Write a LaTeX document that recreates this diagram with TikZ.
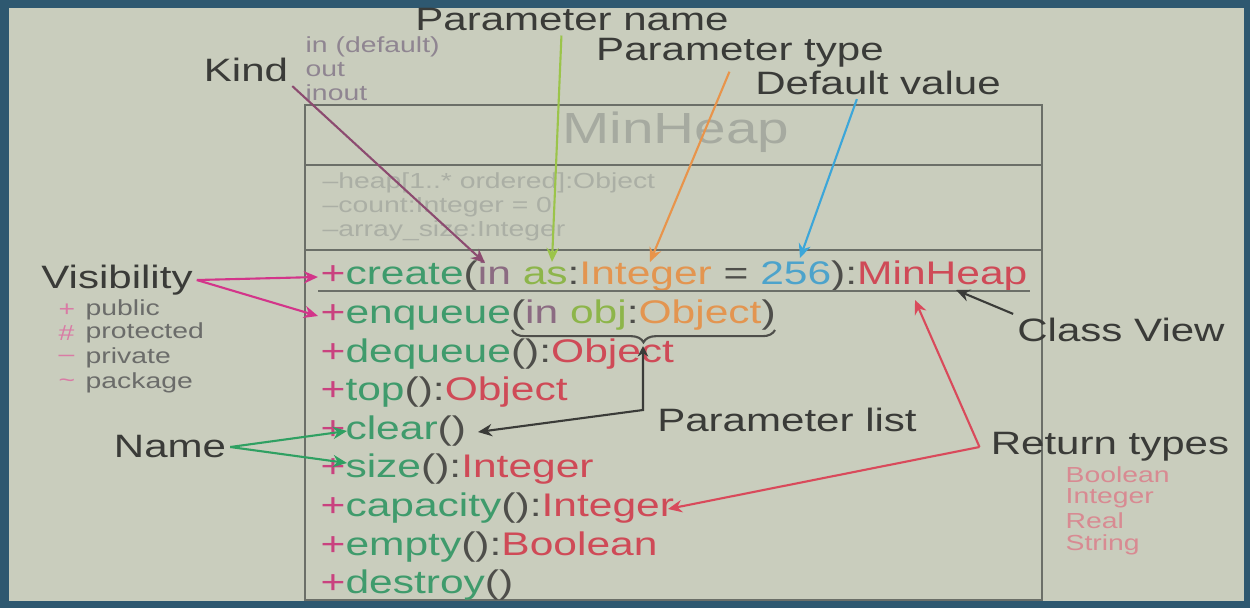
\documentclass[tikz,border=0pt]{standalone}
\usepackage{fontspec}
\setmainfont[FakeStretch=1.3]{Liberation Sans}
\usetikzlibrary{arrows.meta, positioning, decorations.pathreplacing}
\definecolor{slidebg}{HTML}{C9CDBD}
\definecolor{slideframe}{HTML}{2E5870}
\definecolor{boxgray}{HTML}{6B6F68}
\definecolor{lbltext}{HTML}{3A3B38}
\definecolor{headgray}{HTML}{A6AAA0}
\definecolor{attrgray}{HTML}{ABAFA5}
\definecolor{kindgray}{HTML}{8F8591}
\definecolor{uvis}{HTML}{C9427F}
\definecolor{uname}{HTML}{3F9B6C}
\definecolor{upunct}{HTML}{4E4E4A}
\definecolor{uret}{HTML}{CF4A57}
\definecolor{ukind}{HTML}{8B6B82}
\definecolor{upname}{HTML}{8DB54A}
\definecolor{uptype}{HTML}{E39550}
\definecolor{udval}{HTML}{4DA3CB}
\definecolor{retlist}{HTML}{D88A92}
\definecolor{akind}{HTML}{8C4B70}
\definecolor{apname}{HTML}{9BC44A}
\definecolor{aptype}{HTML}{E8944B}
\definecolor{adval}{HTML}{3CA6D9}
\definecolor{avis}{HTML}{D3358A}
\definecolor{aname}{HTML}{2FA062}
\definecolor{aret}{HTML}{D94A5B}
\newcommand{\cvis}[1]{\textcolor{uvis}{#1}}
\newcommand{\cnam}[1]{\textcolor{uname}{#1}}
\newcommand{\cpun}[1]{\textcolor{upunct}{#1}}
\newcommand{\cret}[1]{\textcolor{uret}{#1}}
\newcommand{\ckin}[1]{\textcolor{ukind}{#1}}
\newcommand{\cpnm}[1]{\textcolor{upname}{#1}}
\newcommand{\ctyp}[1]{\textcolor{uptype}{#1}}
\newcommand{\cdfv}[1]{\textcolor{udval}{#1}}

\begin{document}
\begin{tikzpicture}[
  x=0.01cm, y=-0.01cm,
  lbl/.style={font=\fontsize{9.2}{11}\selectfont, text=lbltext, inner sep=1pt},
  small/.style={font=\fontsize{6.2}{7}\selectfont, inner sep=0pt, anchor=west},
  meth/.style={font=\fontsize{9.3}{11}\selectfont, inner sep=0pt, anchor=base west},
  attr/.style={small, text=attrgray},
  arr/.style={-{Stealth[length=4pt,width=3.5pt]}, line width=0.6pt},
  boxline/.style={draw=boxgray, line width=0.8pt}
]
  % slide
  \fill[slideframe] (0,0) rectangle (1250,608);
  \fill[slidebg] (9,8) rectangle (1244,601);
  \useasboundingbox (0,0) rectangle (1250,608);

  % class box
  \draw[boxline] (305,105) rectangle (1042,600);
  \draw[boxline] (305,165) -- (1042,165);
  \draw[boxline] (305,250) -- (1042,250);
  \node[font=\fontsize{12.4}{14}\selectfont, text=headgray] (cls) at (676,132) {MinHeap};
  \node[attr] (a1) at (322,183) {–heap[1..* ordered]:Object};
  \node[attr] (a2) at (322,207) {–count:Integer = 0};
  \node[attr] (a3) at (322,231) {–array\_size:Integer};

  \node[meth] (mcreate)  at (320,284) {\cvis{+}\cnam{create}\cpun{(}\ckin{in} \cpnm{as}\cpun{:}\ctyp{Integer} \cpun{=} \cdfv{256}\cpun{):}\cret{MinHeap}};
  \node[meth] (menq)     at (320,323) {\cvis{+}\cnam{enqueue}\cpun{(}\ckin{in} \cpnm{obj}\cpun{:}\ctyp{Object}\cpun{)}};
  \node[meth] (mdeq)     at (320,362) {\cvis{+}\cnam{dequeue}\cpun{():}\cret{Object}};
  \node[meth] (mtop)     at (320,400) {\cvis{+}\cnam{top}\cpun{():}\cret{Object}};
  \node[meth] (mclear)   at (320,439) {\cvis{+}\cnam{clear}\cpun{()}};
  \node[meth] (msize)    at (320,477) {\cvis{+}\cnam{size}\cpun{():}\cret{Integer}};
  \node[meth] (mcap)     at (320,516) {\cvis{+}\cnam{capacity}\cpun{():}\cret{Integer}};
  \node[meth] (mempty)   at (320,555) {\cvis{+}\cnam{empty}\cpun{():}\cret{Boolean}};
  \node[meth] (mdestroy) at (320,593) {\cvis{+}\cnam{destroy}\cpun{()}};
  \coordinate (ul1) at (318,291);
  \coordinate (ul2) at (1030,291);
  \draw[boxline] (ul1) -- (ul2);

  % labels
  \node[lbl] (pname) at (572,20)   {Parameter name};
  \node[lbl] (ptype) at (740,53)   {Parameter type};
  \node[lbl] (dval)  at (878,83)   {Default value};
  \node[lbl] (kind)  at (246,70)   {Kind};
  \node[lbl] (vis)   at (117,280)  {Visibility};
  \node[lbl] (name)  at (170,447)  {Name};
  \node[lbl] (cview) at (1121,330) {Class View};
  \node[lbl] (plist) at (787,420)  {Parameter list};
  \node[lbl] (rtyp)  at (1110,447) {Return types};

  \node[small, text=kindgray] (k1) at (305,47) {in (default)};
  \node[small, text=kindgray] (k2) at (305,70) {out};
  \node[small, text=kindgray] (k3) at (305,93) {inout};

  \node[small, text=uvis!70] (s1) at (58,310) {+};
  \node[small, text=uvis!70] (s2) at (58,333) {\#};
  \node[small, text=uvis!70] (s3) at (58,358) {–};
  \node[small, text=uvis!70] (s4) at (58,383) {\textasciitilde};
  \node[small, text=lbltext!75] (v1) at (85,310) {public};
  \node[small, text=lbltext!75] (v2) at (85,333) {protected};
  \node[small, text=lbltext!75] (v3) at (85,358) {private};
  \node[small, text=lbltext!75] (v4) at (85,383) {package};

  \node[small, text=retlist] (r1) at (1065,475) {Boolean};
  \node[small, text=retlist] (r2) at (1065,498) {Integer};
  \node[small, text=retlist] (r3) at (1065,521) {Real};
  \node[small, text=retlist] (r4) at (1065,545) {String};

  % arrow targets
  \coordinate (tkind)  at (485,263);
  \coordinate (tpname) at (552,262);
  \coordinate (tptype) at (650,262);
  \coordinate (tdval)  at (800,258);
  \coordinate (tvis1)  at (318,277);
  \coordinate (tvis2)  at (318,316);
  \coordinate (tname1) at (347,431);
  \coordinate (tname2) at (347,463);
  \coordinate (tcview) at (956,290);
  \coordinate (tret1)  at (915,300);
  \coordinate (tret2)  at (668,509);
  \coordinate (btip)   at (643,346);
  \coordinate (bknee)  at (643,410);
  \coordinate (tclear) at (478,432);
  \coordinate (bl)     at (512,330);
  \coordinate (br)     at (775,330);

  \draw[arr, akind] (kind.south east) -- (tkind);
  \draw[arr, apname] ([xshift=-3pt]pname.south) -- (tpname);
  \draw[arr, aptype] ([xshift=-3pt]ptype.south) -- (tptype);
  \draw[arr, adval] ([xshift=-6pt]dval.south) -- (tdval);
  \draw[arr, avis] (vis.east) -- (tvis1);
  \draw[arr, avis] (vis.east) -- (tvis2);
  \draw[arr, aname] (name.east) -- (tname1);
  \draw[arr, aname] (name.east) -- (tname2);
  \draw[arr, lbltext] (cview.north west) -- (tcview);
  \draw[arr, aret] ([xshift=-2pt]rtyp.west) -- (tret1);
  \draw[arr, aret] ([xshift=-2pt]rtyp.west) -- (tret2);
  \draw[upunct, line width=0.6pt, decorate,
        decoration={brace, mirror, amplitude=3.5pt}] (bl) -- (br);
  \draw[{Stealth[length=3pt,width=3pt]}-{Stealth[length=4pt,width=3.5pt]},
        line width=0.6pt, lbltext] (btip) -- (bknee) -- (tclear);
\end{tikzpicture}
\end{document}
